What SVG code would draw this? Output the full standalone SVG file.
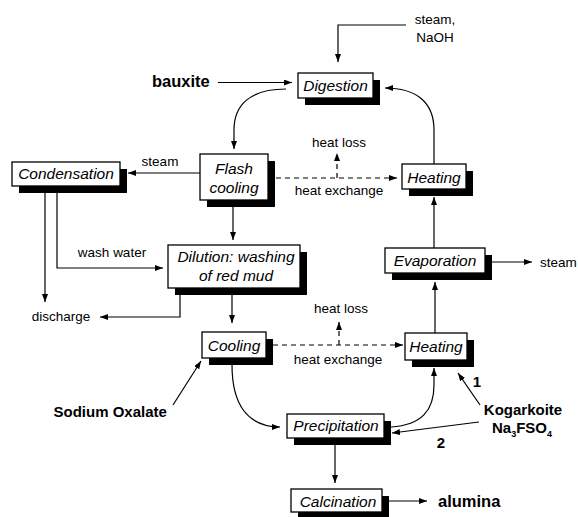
<svg xmlns="http://www.w3.org/2000/svg" width="578" height="517" viewBox="0 0 578 517">
<style>
.box{fill:#fff;stroke:#000;stroke-width:1.3}
.sh{fill:#000}
.nt{font-family:"Liberation Sans",Arial,sans-serif;font-style:italic;font-size:15.5px;fill:#000;text-anchor:middle}
.lb{font-family:"Liberation Sans",Arial,sans-serif;font-size:13.5px;fill:#000}
.bd{font-family:"Liberation Sans",Arial,sans-serif;font-weight:bold;font-size:15px;fill:#000}
.c{fill:none;stroke:#000;stroke-width:1.2}
.d{fill:none;stroke:#000;stroke-width:1.2;stroke-dasharray:5,4}
</style>
<defs>
<marker id="a" markerUnits="userSpaceOnUse" markerWidth="9" markerHeight="7" refX="8" refY="3" orient="auto">
<path d="M0,0 L8,3 L0,6 z" fill="#000"/>
</marker>
</defs>
<g id="connectors">
<path class="c" d="M406,25 H338 V62" marker-end="url(#a)"/>
<path class="c" d="M218,82.5 H292" marker-end="url(#a)"/>
<path class="c" d="M286,89 C250,89 234,105 234,130 V149" marker-end="url(#a)"/>
<path class="c" d="M434,164 V130 C434,102 416,88 385,88" marker-end="url(#a)"/>
<path class="c" d="M200,173 H128" marker-end="url(#a)"/>
<path class="d" d="M276,178 H397" marker-end="url(#a)"/>
<path class="d" d="M337,178 V153" marker-end="url(#a)"/>
<path class="c" d="M434,248 V197" marker-end="url(#a)"/>
<path class="c" d="M45,193 V302" marker-end="url(#a)"/>
<path class="c" d="M57,193 V268 H163" marker-end="url(#a)"/>
<path class="c" d="M233,207 V240" marker-end="url(#a)"/>
<path class="c" d="M180,295 V317 H100" marker-end="url(#a)"/>
<path class="c" d="M232,295 V323" marker-end="url(#a)"/>
<path class="d" d="M273,345 H403" marker-end="url(#a)"/>
<path class="d" d="M339,345 V322" marker-end="url(#a)"/>
<path class="c" d="M435,333 V282" marker-end="url(#a)"/>
<path class="c" d="M492,262 H532" marker-end="url(#a)"/>
<path class="c" d="M232,365 C232,405 248,427 280,427" marker-end="url(#a)"/>
<path class="c" d="M391,427 C422,425 434,410 434,385 V368" marker-end="url(#a)"/>
<path class="c" d="M480,405 L458,373" marker-end="url(#a)"/>
<path class="c" d="M479,422 L392,433" marker-end="url(#a)"/>
<path class="c" d="M173,405 L201,361" marker-end="url(#a)"/>
<path class="c" d="M335,445 V483" marker-end="url(#a)"/>
<path class="c" d="M388,501 H427" marker-end="url(#a)"/>
</g>
<g id="digestion"><rect class="sh" x="305" y="80" width="75" height="25"/><rect class="box" x="298" y="73" width="75" height="25"/><text class="nt" x="335.5" y="90.5">Digestion</text></g>
<g id="flash"><rect class="sh" x="207" y="161" width="68" height="46"/><rect class="box" x="200" y="154" width="68" height="46"/><text class="nt" x="234" y="174">Flash</text><text class="nt" x="234" y="192.5">cooling</text></g>
<g id="condensation"><rect class="sh" x="19" y="169" width="108" height="24"/><rect class="box" x="12" y="162" width="108" height="24"/><text class="nt" x="66" y="179">Condensation</text></g>
<g id="heating1"><rect class="sh" x="409" y="171" width="64" height="25"/><rect class="box" x="402" y="164" width="64" height="25"/><text class="nt" x="434" y="182.5">Heating</text></g>
<g id="evaporation"><rect class="sh" x="392" y="255" width="100" height="25"/><rect class="box" x="385" y="248" width="100" height="25"/><text class="nt" x="435" y="266">Evaporation</text></g>
<g id="dilution"><rect class="sh" x="175" y="252" width="132" height="43"/><rect class="box" x="168" y="245" width="132" height="43"/><text class="nt" x="236" y="262">Dilution: washing</text><text class="nt" x="236" y="280.5">of red mud</text></g>
<g id="cooling"><rect class="sh" x="209" y="339" width="64" height="26"/><rect class="box" x="202" y="332" width="64" height="26"/><text class="nt" x="234" y="350.5">Cooling</text></g>
<g id="heating2"><rect class="sh" x="412" y="340" width="62" height="27"/><rect class="box" x="405" y="333" width="62" height="27"/><text class="nt" x="436" y="351.5">Heating</text></g>
<g id="precipitation"><rect class="sh" x="294" y="421" width="97" height="24"/><rect class="box" x="287" y="414" width="97" height="24"/><text class="nt" x="336" y="430.5">Precipitation</text></g>
<g id="calcination"><rect class="sh" x="298" y="496" width="91" height="23"/><rect class="box" x="291" y="489" width="91" height="23"/><text class="nt" x="338" y="506.5">Calcination</text></g>
<g id="labels">
<text class="lb" x="435" y="24" text-anchor="middle">steam,</text>
<text class="lb" x="435" y="42" text-anchor="middle">NaOH</text>
<text class="bd" x="152" y="87" style="font-size:16.5px">bauxite</text>
<text class="lb" x="160" y="165.5" text-anchor="middle">steam</text>
<text class="lb" x="339" y="147" text-anchor="middle">heat loss</text>
<text class="lb" x="339" y="195" text-anchor="middle">heat exchange</text>
<text class="lb" x="112" y="257" text-anchor="middle">wash water</text>
<text class="lb" x="61" y="321" text-anchor="middle">discharge</text>
<text class="lb" x="341" y="313" text-anchor="middle">heat loss</text>
<text class="lb" x="338" y="363.5" text-anchor="middle">heat exchange</text>
<text class="lb" x="540" y="266.5">steam</text>
<text class="bd" x="53.5" y="417">Sodium Oxalate</text>
<text class="bd" x="523" y="414.5" text-anchor="middle">Kogarkoite</text>
<text class="bd" x="492" y="433">Na<tspan dy="4" style="font-size:9px">3</tspan><tspan dy="-4">FSO</tspan><tspan dy="4" style="font-size:9px">4</tspan></text>
<text class="bd" x="477" y="387" text-anchor="middle">1</text>
<text class="bd" x="441" y="447.5" text-anchor="middle">2</text>
<text class="bd" x="438" y="507" style="font-size:16.5px">alumina</text>
</g>
</svg>
